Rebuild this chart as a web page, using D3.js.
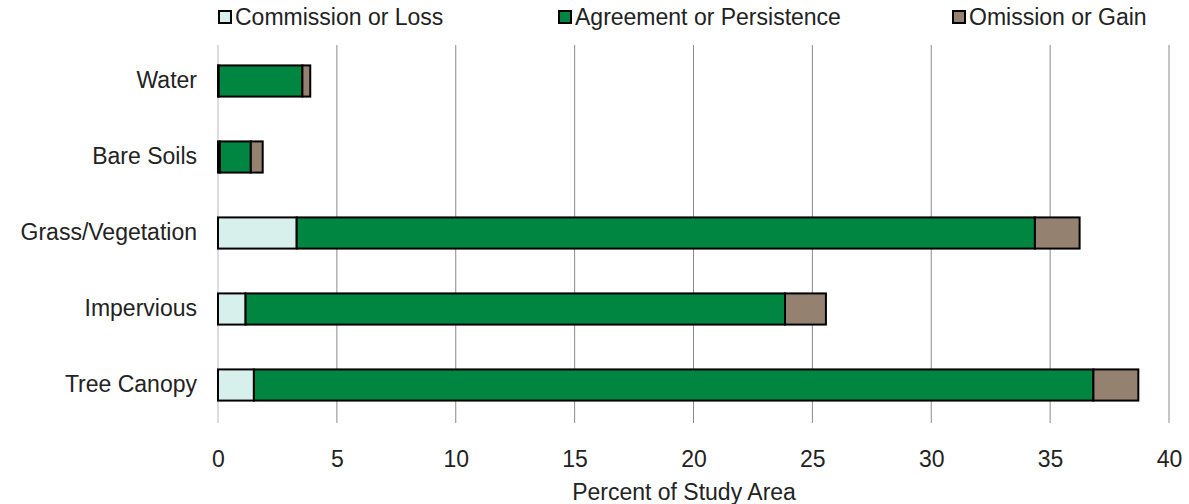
<!DOCTYPE html>
<html>
<head>
<meta charset="utf-8">
<script src="https://d3js.org/d3.v7.min.js"></script>
<style>
  body { margin: 0; background: #fff; }
  text { font-family: "Liberation Sans", Arial, sans-serif; fill: #222; }
</style>
</head>
<body>
<div id="chart"></div>
<script>
var categories = ["Water", "Bare Soils", "Grass/Vegetation", "Impervious", "Tree Canopy"];
var seriesNames = ["Commission or Loss", "Agreement or Persistence", "Omission or Gain"];
var loss = [0.03, 0.08, 3.31, 1.16, 1.51];
var agreement = [3.52, 1.3, 31.05, 22.69, 35.31];
var gain = [0.33, 0.5, 1.88, 1.72, 1.89];
var xTicks = [0, 5, 10, 15, 20, 25, 30, 35, 40];
var colors = ["#d8f0ec", "#008641", "#948170"];

var width = 1189, height = 504;
var margin = {top: 43, right: 20, bottom: 81, left: 218};
var fontSize = "23px";

var svg = d3.select("#chart").append("svg")
    .attr("width", width)
    .attr("height", height);

var x = d3.scaleLinear()
    .domain([0, 40])
    .range([margin.left, 1169]);

var y = d3.scaleBand()
    .domain(categories)
    .range([margin.top, height - margin.bottom])
    .paddingInner(0.59)
    .paddingOuter(0.295);

// gridlines
svg.append("g").selectAll("line")
    .data(xTicks)
    .enter()
    .append("line")
    .attr("x1", function(d){ return x(d); })
    .attr("x2", function(d){ return x(d); })
    .attr("y1", margin.top + 2)
    .attr("y2", height - margin.bottom)
    .attr("stroke", function(d){ return d == 0 ? "#bbb" : "#8a8a8a"; })
    .attr("stroke-width", 1);

// stacked data
var rows = categories.map(function(c, i){
    return {cat: c, parts: [loss[i], agreement[i], gain[i]]};
});

var segs = [];
rows.forEach(function(r){
    var start = 0;
    r.parts.forEach(function(v, j){
        segs.push({cat: r.cat, x0: start, x1: start + v, s: j});
        start += v;
    });
});

svg.append("g").selectAll("rect")
    .data(segs)
    .enter()
    .append("rect")
    .attr("x", function(d){ return x(d.x0); })
    .attr("width", function(d){ return x(d.x1) - x(d.x0); })
    .attr("y", function(d){ return y(d.cat); })
    .attr("height", y.bandwidth())
    .attr("fill", function(d){ return colors[d.s]; })
    .attr("stroke", "#000")
    .attr("stroke-width", 2);

// x axis labels
var xAxis = d3.axisBottom(x).tickValues(xTicks).tickSize(0).tickPadding(0);
var gx = svg.append("g")
    .attr("transform", "translate(0," + (height - margin.bottom) + ")")
    .call(xAxis);
gx.select(".domain").remove();
gx.selectAll("text")
    .attr("dy", null)
    .attr("y", 44)
    .style("font-size", fontSize)
    .style("font-family", "Liberation Sans, Arial, sans-serif")
    .attr("fill", "#222");

// y axis labels
var yAxis = d3.axisLeft(y).tickSize(0).tickPadding(21);
var gy = svg.append("g")
    .attr("transform", "translate(" + margin.left + ",0)")
    .call(yAxis);
gy.select(".domain").remove();
gy.selectAll("text")
    .style("font-size", fontSize)
    .style("font-family", "Liberation Sans, Arial, sans-serif")
    .attr("fill", "#222");

// axis title
svg.append("text")
    .attr("x", 684)
    .attr("y", 500)
    .attr("text-anchor", "middle")
    .style("font-size", fontSize)
    .text("Percent of Study Area");

// legend
var legendX = [218, 558, 952];
var legend = svg.append("g").selectAll("g")
    .data(seriesNames)
    .enter()
    .append("g")
    .attr("transform", function(d, i){ return "translate(" + legendX[i] + ",0)"; });

legend.append("rect")
    .attr("x", 1)
    .attr("y", 11)
    .attr("width", 12)
    .attr("height", 12)
    .attr("fill", function(d, i){ return colors[i]; })
    .attr("stroke", "#000")
    .attr("stroke-width", 2);

legend.append("text")
    .attr("x", 17)
    .attr("y", 25)
    .style("font-size", fontSize)
    .text(function(d){ return d; });
</script>
</body>
</html>
